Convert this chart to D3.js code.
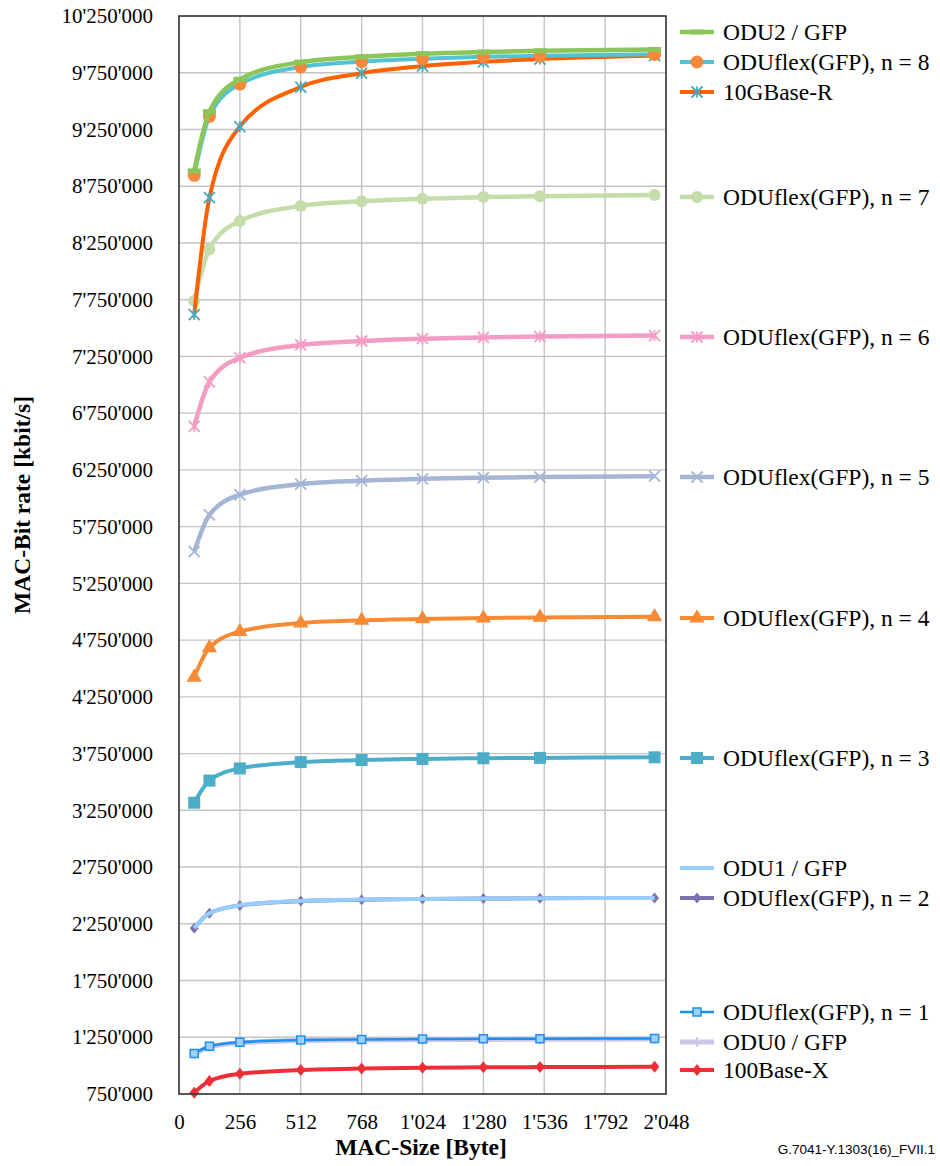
<!DOCTYPE html>
<html>
<head>
<meta charset="utf-8">
<script src="https://cdn.jsdelivr.net/npm/d3@7"></script>
<style>
  body { margin: 0; background: #fff; }
  text { font-family: "Liberation Serif", "Times New Roman", serif; fill: #000; }
</style>
</head>
<body>
<div id="chart"></div>
<script>
// MAC frame sizes (byte)
const macSize = [64, 128, 256, 512, 768, 1024, 1280, 1518, 2000];

// MAC bit rates (kbit/s)
const odu2Gfp   = [8885000, 9407000, 9692000, 9844000, 9891000, 9918000, 9933000, 9943000, 9955000];
const oduflex8  = [8846000, 9366000, 9650000, 9801000, 9848000, 9874000, 9890000, 9899000, 9912000];
const base10gR  = [7619000, 8649000, 9275000, 9624000, 9746000, 9808000, 9846000, 9870000, 9901000];
const oduflex7  = [7740000, 8195000, 8444000, 8576000, 8617000, 8640000, 8654000, 8662000, 8673000];
const oduflex6  = [6634000, 7025000, 7238000, 7351000, 7386000, 7406000, 7417000, 7425000, 7434000];
const oduflex5  = [5529000, 5854000, 6031000, 6125000, 6155000, 6171000, 6181000, 6187000, 6195000];
const oduflex4  = [4423000, 4683000, 4825000, 4900000, 4924000, 4937000, 4945000, 4950000, 4956000];
const oduflex3  = [3317000, 3512000, 3619000, 3675000, 3693000, 3703000, 3709000, 3712000, 3717000];
const odu1Gfp   = [2212000, 2342000, 2413000, 2451000, 2463000, 2469000, 2473000, 2475000, 2478000];
const oduflex2  = [2211000, 2342000, 2412000, 2450000, 2462000, 2469000, 2472000, 2475000, 2478000];
const oduflex1  = [1106000, 1171000, 1206000, 1225000, 1231000, 1234000, 1236000, 1237000, 1239000];
const odu0Gfp   = [1101000, 1166000, 1201000, 1220000, 1226000, 1229000, 1231000, 1232000, 1234000];
const base100X  = [762000, 865000, 928000, 962000, 975000, 981000, 985000, 987000, 990000];

const yTicks = d3.range(750000, 10250001, 500000);
const xTicks = d3.range(0, 2049, 256);

// series, in drawing order (bottom first)
const series = [
  { label: '100Base-X',           values: base100X, color: '#ec2f37', mark: 'diamond', mcol: '#ec2f37', ms: 12, w: 4,   ly: 1070 },
  { label: 'ODU0 / GFP',          values: odu0Gfp,  color: '#c9c6e6', mark: 'plus',    mcol: '#c9c6e6', ms: 10, w: 5,   ly: 1042 },
  { label: 'ODUflex(GFP), n = 1', values: oduflex1, color: '#1d8ff0', mark: 'square',  mcol: '#1d8ff0', ms: 8,  w: 2.5, ly: 1012 },
  { label: 'ODUflex(GFP), n = 2', values: oduflex2, color: '#7b70b2', mark: 'diamond', mcol: '#7b70b2', ms: 11, w: 4,   ly: 898 },
  { label: 'ODU1 / GFP',          values: odu1Gfp,  color: '#99ccff', mark: null,      mcol: null,      ms: 0,  w: 4,   ly: 868 },
  { label: 'ODUflex(GFP), n = 3', values: oduflex3, color: '#4badc7', mark: 'square',  mcol: '#4badc7', ms: 12, w: 4,   ly: 758 },
  { label: 'ODUflex(GFP), n = 4', values: oduflex4, color: '#f68a35', mark: 'triangle',mcol: '#f68a35', ms: 13, w: 4,   ly: 618 },
  { label: 'ODUflex(GFP), n = 5', values: oduflex5, color: '#a5b5d5', mark: 'x',       mcol: '#a5b5d5', ms: 11, w: 4.5, ly: 477 },
  { label: 'ODUflex(GFP), n = 6', values: oduflex6, color: '#f39dc4', mark: 'star',    mcol: '#f39dc4', ms: 11, w: 4.5, ly: 337 },
  { label: 'ODUflex(GFP), n = 7', values: oduflex7, color: '#c4ddaa', mark: 'circle',  mcol: '#c4ddaa', ms: 12, w: 4.5, ly: 197 },
  { label: '10GBase-R',           values: base10gR, color: '#ff6100', mark: 'star',    mcol: '#48a8ba', ms: 11, w: 4,   ly: 92 },
  { label: 'ODUflex(GFP), n = 8', values: oduflex8, color: '#52c3d2', mark: 'circle',  mcol: '#f5883b', ms: 13, w: 4,   ly: 62 },
  { label: 'ODU2 / GFP',          values: odu2Gfp,  color: '#8cc65a', mark: 'dash',    mcol: '#8cc65a', ms: 13, w: 4.5, ly: 32 }
];

const W = 940, H = 1166;
const plot = { l: 179, r: 666, t: 16, b: 1094 };

const svg = d3.select('#chart').append('svg')
  .attr('width', W).attr('height', H);

const x = d3.scaleLinear().domain([0, 2048]).range([plot.l, plot.r]);
const y = d3.scaleLinear().domain([750000, 10250000]).range([plot.b, plot.t]);

const fmt = d3.formatLocale({ decimal: '.', thousands: "'", grouping: [3], currency: ['', ''] }).format(',');

// grid
svg.append('g').selectAll('line.h')
  .data(yTicks).join('line')
    .attr('x1', plot.l).attr('x2', plot.r)
    .attr('y1', d => y(d)).attr('y2', d => y(d))
    .attr('stroke', '#c4c4c4').attr('stroke-width', 1.4);
svg.append('g').selectAll('line.v')
  .data(xTicks).join('line')
    .attr('x1', d => x(d)).attr('x2', d => x(d))
    .attr('y1', plot.t).attr('y2', plot.b)
    .attr('stroke', '#c4c4c4').attr('stroke-width', 1.4);

// axes labels
const yAxis = d3.axisLeft(y).tickValues(yTicks).tickFormat(fmt).tickSize(0).tickPadding(26);
svg.append('g').attr('transform', `translate(${plot.l},0)`).call(yAxis)
  .call(g => g.select('.domain').remove())
  .selectAll('text')
    .style('font-family', '"Liberation Serif", serif')
    .style('font-size', '21px').attr('fill', '#000');

const xAxis = d3.axisBottom(x).tickValues(xTicks).tickFormat(fmt).tickSize(0).tickPadding(20);
svg.append('g').attr('transform', `translate(0,${plot.b})`).call(xAxis)
  .call(g => g.select('.domain').remove())
  .selectAll('text')
    .style('font-family', '"Liberation Serif", serif')
    .style('font-size', '21px').attr('fill', '#000');

// markers
function markerPath(type, s) {
  const h = s / 2;
  switch (type) {
    case 'circle':   return d3.symbol(d3.symbolCircle, Math.PI * h * h)();
    case 'square':   return d3.symbol(d3.symbolSquare, s * s)();
    case 'triangle': return d3.symbol(d3.symbolTriangle, s * s * 0.6)();
    case 'diamond':  return `M0,${-h}L${h * 0.8},0L0,${h}L${-h * 0.8},0Z`;
    case 'dash':     return `M${-h},-2.5H${h}V2.5H${-h}Z`;
    case 'x':        return `M${-h},${-h}L${h},${h}M${-h},${h}L${h},${-h}`;
    case 'plus':     return `M${-h},0H${h}M0,${-h}V${h}`;
    case 'star':     return `M${-h},${-h}L${h},${h}M${-h},${h}L${h},${-h}M0,${-h}V${h}`;
  }
  return '';
}
const stroked = t => t === 'x' || t === 'plus' || t === 'star';

function drawMarker(g, s, cx, cy) {
  if (!s.mark) return;
  const p = g.append('path')
    .attr('d', markerPath(s.mark, s.ms))
    .attr('transform', `translate(${cx},${cy})`);
  if (stroked(s.mark)) {
    p.attr('fill', 'none').attr('stroke', s.mcol).attr('stroke-width', 1.8);
  } else if (s.label === 'ODUflex(GFP), n = 1') {
    p.attr('fill', '#9fd0ff').attr('stroke', s.mcol).attr('stroke-width', 1.5);
  } else {
    p.attr('fill', s.mcol);
  }
}

const line = d3.line()
  .x((d, i) => x(macSize[i]))
  .y(d => y(d))
  .curve(d3.curveMonotoneX);

const gSeries = svg.append('g');
series.forEach(s => {
  const g = gSeries.append('g');
  g.append('path')
    .attr('d', line(s.values))
    .attr('fill', 'none')
    .attr('stroke', s.color)
    .attr('stroke-width', s.w)
    .attr('stroke-linejoin', 'round');
  s.values.forEach((v, i) => drawMarker(g, s, x(macSize[i]), y(v)));
});

// plot frame
svg.append('rect')
  .attr('x', plot.l).attr('y', plot.t)
  .attr('width', plot.r - plot.l).attr('height', plot.b - plot.t)
  .attr('fill', 'none').attr('stroke', '#3a3a3a').attr('stroke-width', 1.6);

// legend
const leg = svg.append('g');
series.forEach(s => {
  const g = leg.append('g').attr('transform', `translate(0,${s.ly})`);
  g.append('line').attr('x1', 680).attr('x2', 714)
    .attr('stroke', s.color).attr('stroke-width', s.w);
  drawMarker(g, s, 697, 0);
  g.append('text').attr('x', 723).attr('dy', '0.35em')
    .style('font-size', '23.5px').text(s.label);
});

// axis titles
svg.append('text')
  .attr('transform', `translate(30,505) rotate(-90)`)
  .attr('text-anchor', 'middle')
  .style('font-size', '23.5px').style('font-weight', 'bold')
  .text('MAC-Bit rate [kbit/s]');

svg.append('text')
  .attr('x', 421).attr('y', 1155)
  .attr('text-anchor', 'middle')
  .style('font-size', '23.5px').style('font-weight', 'bold')
  .text('MAC-Size [Byte]');

svg.append('text')
  .attr('x', 935).attr('y', 1154)
  .attr('text-anchor', 'end')
  .style('font-family', '"Liberation Sans", Arial, sans-serif')
  .style('font-size', '13.5px')
  .text('G.7041-Y.1303(16)_FVII.1');
</script>
</body>
</html>
